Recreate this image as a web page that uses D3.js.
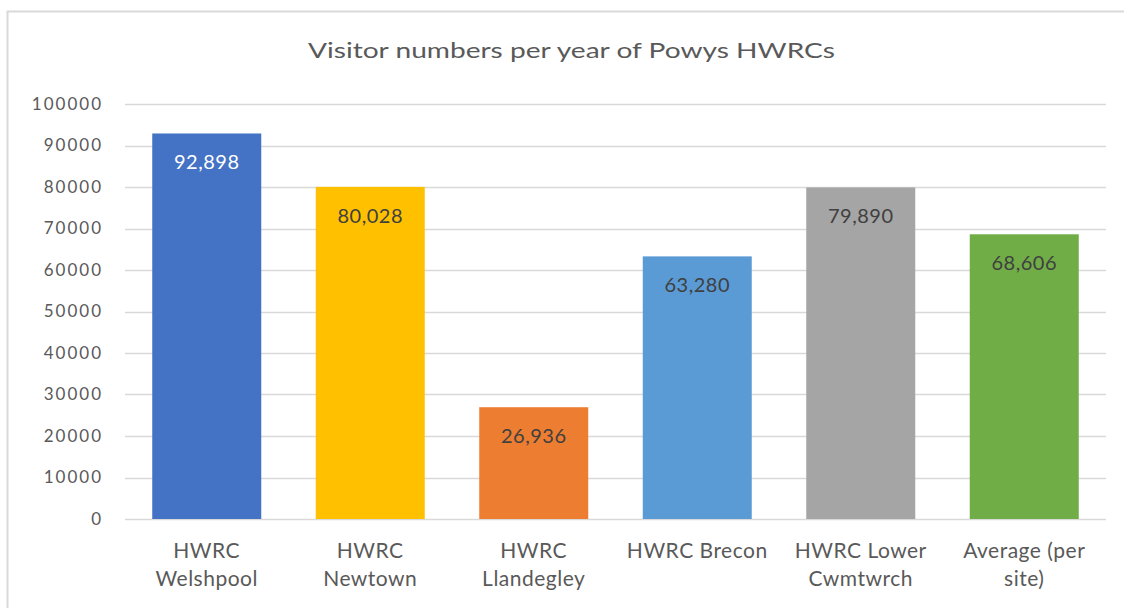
<!DOCTYPE html>
<html>
<head>
<meta charset="utf-8">
<script src="https://cdn.jsdelivr.net/npm/d3@7"></script>
<style>
  html, body { margin: 0; padding: 0; background: #fff; }
  svg { display: block; }
  text { font-family: Lato, "Open Sans", sans-serif; }
</style>
</head>
<body>
<script>
const categories = ["HWRC Welshpool", "HWRC Newtown", "HWRC Llandegley", "HWRC Brecon", "HWRC Lower Cwmtwrch", "Average (per site)"];
const categoryLines = [["HWRC", "Welshpool"], ["HWRC", "Newtown"], ["HWRC", "Llandegley"], ["HWRC Brecon"], ["HWRC Lower", "Cwmtwrch"], ["Average (per", "site)"]];
const visitors = [92898, 80028, 26936, 63280, 79890, 68606];
const barColors = ["#4472C4", "#FFC000", "#ED7D31", "#5B9BD5", "#A5A5A5", "#70AD47"];
const labelColors = ["#ffffff", "#404040", "#404040", "#404040", "#404040", "#404040"];
const yTicks = [0, 10000, 20000, 30000, 40000, 50000, 60000, 70000, 80000, 90000, 100000];
const title = "Visitor numbers per year of Powys HWRCs";

const W = 1124, H = 608;
const svg = d3.select("body").append("svg").attr("width", W).attr("height", H);

// chart border
svg.append("rect").attr("x", 7.5).attr("y", 11.5).attr("width", W).attr("height", H)
  .attr("fill", "#fff").attr("stroke", "#d9d9d9").attr("stroke-width", 2);

const plot = { left: 125, right: 1106, top: 104, bottom: 519 };

const x = d3.scaleBand().domain(categories).range([plot.left, plot.right])
  .paddingInner(1/3).paddingOuter(1/6);
const y = d3.scaleLinear().domain([0, 100000]).range([plot.bottom, plot.top]);

// title
svg.append("text").attr("x", 308).attr("y", 58)
  .attr("text-anchor", "start")
  .attr("font-size", 22).attr("fill", "#595959")
  .attr("textLength", 527).attr("lengthAdjust", "spacingAndGlyphs")
  .text(title);

// gridlines
svg.append("g").selectAll("line").data(yTicks).join("line")
  .attr("x1", plot.left).attr("x2", plot.right)
  .attr("y1", d => Math.round(y(d)) + 0.5).attr("y2", d => Math.round(y(d)) + 0.5)
  .attr("stroke", "#d9d9d9").attr("stroke-width", 1.5);

// y axis labels
const yAxis = d3.axisLeft(y).tickValues(yTicks).tickFormat(d3.format("d")).tickSize(0).tickPadding(22);
const gy = svg.append("g").attr("transform", `translate(${plot.left},0)`).call(yAxis);
gy.select(".domain").remove();
gy.selectAll("text").attr("font-size", 17).attr("letter-spacing", "2px")
  .attr("fill", "#595959").attr("font-family", "Lato, sans-serif");

// bars
svg.append("g").selectAll("rect").data(visitors).join("rect")
  .attr("x", (d, i) => x(categories[i]))
  .attr("y", d => y(d))
  .attr("width", x.bandwidth())
  .attr("height", d => y(0) - y(d))
  .attr("fill", (d, i) => barColors[i]);

// data labels
const fmt = d3.format(",");
svg.append("g").selectAll("text").data(visitors).join("text")
  .attr("x", (d, i) => x(categories[i]) + x.bandwidth() / 2)
  .attr("y", d => y(d) + 36)
  .attr("text-anchor", "middle")
  .attr("font-size", 20).attr("letter-spacing", "0.5px").attr("fill", (d, i) => labelColors[i])
  .text(d => fmt(d));

// x category labels
const gx = svg.append("g");
categories.forEach((c, i) => {
  const t = gx.append("text")
    .attr("x", x(c) + x.bandwidth() / 2)
    .attr("y", 558)
    .attr("text-anchor", "middle")
    .attr("font-size", 21).attr("letter-spacing", "0.5px").attr("fill", "#595959");
  categoryLines[i].forEach((ln, j) => {
    t.append("tspan").attr("x", x(c) + x.bandwidth() / 2).attr("dy", j === 0 ? 0 : 28).text(ln);
  });
});
</script>
</body>
</html>
